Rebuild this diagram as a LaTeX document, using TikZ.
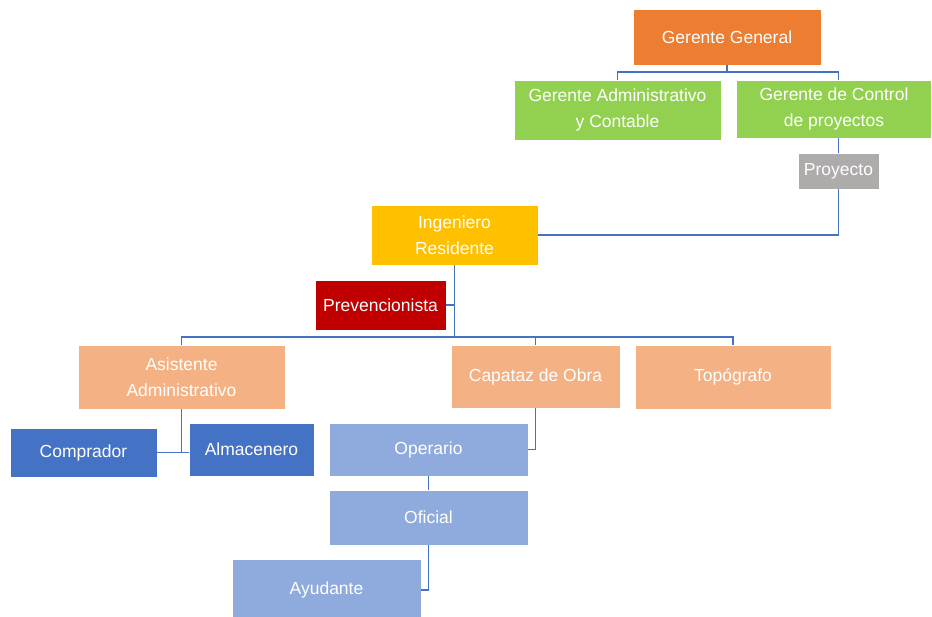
\documentclass[tikz,border=0pt]{standalone}
\usepackage{fontspec}
\setmainfont{Liberation Sans}
\definecolor{cOrange}{HTML}{ED7D31}
\definecolor{cGreen}{HTML}{92D050}
\definecolor{cGray}{HTML}{AEABAB}
\definecolor{cYellow}{HTML}{FFC000}
\definecolor{cRed}{HTML}{C00000}
\definecolor{cPeach}{HTML}{F4B183}
\definecolor{cBlue}{HTML}{4472C4}
\definecolor{cSky}{HTML}{8FAADC}
\definecolor{cLine}{HTML}{4472C4}
\begin{document}
\begin{tikzpicture}[x=1pt,y=-1pt,
  box/.style={draw=white, line width=0.8pt, inner sep=0pt, text=white,
    align=center, font=\fontsize{17.5}{26}\selectfont},
  link/.style={draw=cLine, line width=1.6pt}]
\fill[white] (0,0) rectangle (932,617);
\useasboundingbox (0,0) rectangle (932,617);

% top management
\node[box, fill=cOrange, minimum width=188, minimum height=56] (gg) at (727,37) {Gerente General};
\node[box, fill=cGreen, minimum width=207, minimum height=60] (gadm) at (617.5,110) {Gerente Administrativo\\y Contable};
\node[box, fill=cGreen, minimum width=195, minimum height=58] (gctl) at (834,109) {Gerente de Control\\de proyectos};
\node[box, fill=cGray, minimum width=81, minimum height=36] (proy) at (838.5,171) {Proyecto};

% site management
\node[box, fill=cYellow, minimum width=167, minimum height=60] (ing) at (454.5,235) {Ingeniero\\Residente};
\node[box, fill=cRed, minimum width=131, minimum height=50] (prev) at (380.5,305) {Prevencionista};

% third level
\node[box, fill=cPeach, minimum width=207, minimum height=64] (asis) at (181.5,377) {Asistente\\Administrativo};
\node[box, fill=cPeach, minimum width=169, minimum height=63] (cap) at (535.5,376.5) {Capataz de Obra};
\node[box, fill=cPeach, minimum width=196, minimum height=64] (topo) at (733,377) {Topógrafo};

% fourth level
\node[box, fill=cBlue, minimum width=147, minimum height=49] (comp) at (83.5,452.5) {Comprador};
\node[box, fill=cBlue, minimum width=125, minimum height=53] (alm) at (251.5,449.5) {Almacenero};
\node[box, fill=cSky, minimum width=199, minimum height=53] (oper) at (428.5,449.5) {Operario};
\node[box, fill=cSky, minimum width=199, minimum height=55] (ofi) at (428.5,517.5) {Oficial};
\node[box, fill=cSky, minimum width=189, minimum height=62] (ayu) at (326.5,590) {Ayudante};

% junction points of the buses
\coordinate (j1) at (727,72);
\coordinate (j2) at (454.5,337);

% connectors
\draw[link] (gg.south) -- (j1);
\draw[link] (gadm.north) |- (j1) -| (proy.center |- gctl.north);
\draw[link] (proy.north) -- (proy.north |- gctl.south);
\draw[link] (proy.south) |- (ing.east);
\draw[link] (ing.south) -- (j2);
\draw[link] (prev.east) -- (prev.east -| ing.south);
\draw[link] (asis.north) |- (j2) -| (topo.north);
\draw[link] (cap.north) -- (cap.north |- j2);
\draw[link] (asis.south) -- (asis.south |- comp.east);
\draw[link] (comp.east) -- (alm.west |- comp.east);
\draw[link] (cap.south) |- (oper.east);
\draw[link] (oper.south) -- (ofi.north);
\draw[link] (ofi.south) |- (ayu.east);
\end{tikzpicture}
\end{document}
